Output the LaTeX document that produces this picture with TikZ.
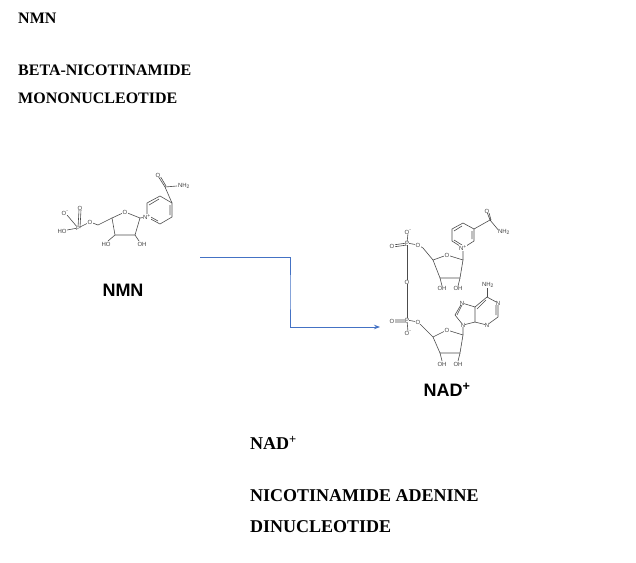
\documentclass[tikz,border=0pt]{standalone}
\usepackage{fontspec}
\setmainfont{Liberation Serif}
\newfontfamily\sansf{Liberation Sans}
\usetikzlibrary{arrows.meta}
\begin{document}
\begin{tikzpicture}[x=1pt,y=-1pt,
  ttl/.style={anchor=west,font=\fontsize{16}{18}\selectfont\bfseries,inner sep=0},
  big/.style={anchor=west,font=\fontsize{18}{20}\selectfont\bfseries,inner sep=0},
  lab/.style={font=\sansf\fontsize{18}{20}\selectfont\bfseries,inner sep=0},
  atm/.style={font=\sansf\fontsize{6}{6}\selectfont,inner sep=0.3,fill=white,text=black!75},
  bd/.style={draw=black!70,line width=0.6pt}]
\useasboundingbox (0,0) rectangle (636,562);
\node[ttl] (t1) at (18,18) {NMN};
\node[ttl] (t2) at (18,70) {BETA-NICOTINAMIDE};
\node[ttl] (t3) at (18,98) {MONONUCLEOTIDE};
\node[lab] (l1) at (123,290) {NMN};
\node[lab] (l2) at (447,390) {NAD\textsuperscript{+}};
\node[big] (t4) at (250,443) {NAD\textsuperscript{+}};
\node[big] (t5) at (250,496) {NICOTINAMIDE ADENINE};
\node[big] (t6) at (250,527) {DINUCLEOTIDE};
% arrow
\coordinate (a0) at (200,257);
\coordinate (a1) at (380,327);
\draw[color={rgb,255:red,68;green,114;blue,196},line width=0.9pt,-{Stealth[length=6pt]}] (a0) -| (290,292) |- (a1);
% NMN molecule
\begin{scope}[bd]
\draw (147,217) -- (147,203) -- (160,196) -- (172,203) -- (172,217) -- (160,224) -- cycle;
\draw (149,205)--(159,199) (170,205)--(170,215) (158,221)--(149,216);
\draw (172,203)--(165,187) (165,187)--(158,176) (166,186)--(159.5,175) (165,187)--(177,186);
\draw (125,212)--(140,218)--(135,235)--(115,235)--(112,218)--cycle;
\draw (140,218)--(147,217);
\draw (115,235)--(108,241) (135,235)--(139,241);
\draw (112,218)--(98,225)--(90,222)--(78,228);
\draw (78,228)--(79,210) (78,228)--(67,215) (78,228)--(67,230) (80,228)--(81,210);
\end{scope}
\node[atm] (n1) at (147,217) {N\textsuperscript{+}};
\node[atm] (n2) at (158,175) {O};
\node[atm] (n3) at (184,186) {NH\textsubscript{2}};
\node[atm] (n4) at (125,212) {O};
\node[atm] (n5) at (90,222) {O};
\node[atm] (n6) at (78,228) {P};
\node[atm] (n7) at (80,208) {O};
\node[atm] (n8) at (65,213) {O\textsuperscript{-}};
\node[atm] (n9) at (62,231) {HO};
\node[atm] (n10) at (106,244) {HO};
\node[atm] (n11) at (142,244) {OH};
% NAD molecule
\begin{scope}[bd]
\draw (463,248)--(452,241)--(452,229)--(463,223)--(474,229)--(474,241)--cycle;
\draw (454,231)--(462,226) (472,231)--(472,239) (462,245)--(454,240);
\draw (474,229)--(490,220)--(487,212) (491,220)--(488.5,211) (490,220)--(500,232);
\draw (447,255)--(463,260)--(460,278)--(440,278)--(433,260)--cycle;
\draw (463,260)--(463,248) (440,278)--(442,286) (460,278)--(458,286);
\draw (433,260)--(423,248)--(418,245)--(407,243);
\draw (407,243)--(408,233) (407,243)--(393,245) (407,245)--(393,247);
\draw (407,243)--(407,320);
\draw (407,320)--(408,332) (407,320)--(393,320) (407,322)--(393,322);
\draw (407,320)--(418,322)--(423,327)--(433,337);
\draw (447,330)--(463,335)--(460,353)--(440,353)--(433,337)--cycle;
\draw (463,335)--(463,325) (440,353)--(442,361) (460,353)--(458,361);
\draw (463,325)--(455,315)--(462,303)--(475,307)--(475,322)--cycle;
\draw (457,315)--(462,305);
\draw (475,307)--(487,297)--(498,303)--(498,317)--(487,325)--(475,322);
\draw (477,309)--(486,300) (496,305)--(496,315);
\draw (487,297)--(487,287);
\end{scope}
\node[atm] (m1) at (463,248) {N\textsuperscript{+}};
\node[atm] (m2) at (487,211) {O};
\node[atm] (m3) at (504,232) {NH\textsubscript{2}};
\node[atm] (m4) at (447,255) {O};
\node[atm] (m5) at (442,288) {OH};
\node[atm] (m6) at (458,288) {OH};
\node[atm] (m7) at (418,245) {O};
\node[atm] (m8) at (407,243) {P};
\node[atm] (m9) at (408,232) {O\textsuperscript{-}};
\node[atm] (m10) at (392,246) {O};
\node[atm] (m11) at (407,282) {O};
\node[atm] (m12) at (407,320) {P};
\node[atm] (m13) at (392,321) {O};
\node[atm] (m14) at (408,333) {O\textsuperscript{-}};
\node[atm] (m15) at (418,322) {O};
\node[atm] (m16) at (447,330) {O};
\node[atm] (m17) at (442,364) {OH};
\node[atm] (m18) at (458,364) {OH};
\node[atm] (m19) at (463,325) {N};
\node[atm] (m20) at (462,303) {N};
\node[atm] (m21) at (498,303) {N};
\node[atm] (m22) at (487,325) {N};
\node[atm] (m23) at (488,285) {NH\textsubscript{2}};
\end{tikzpicture}
\end{document}
